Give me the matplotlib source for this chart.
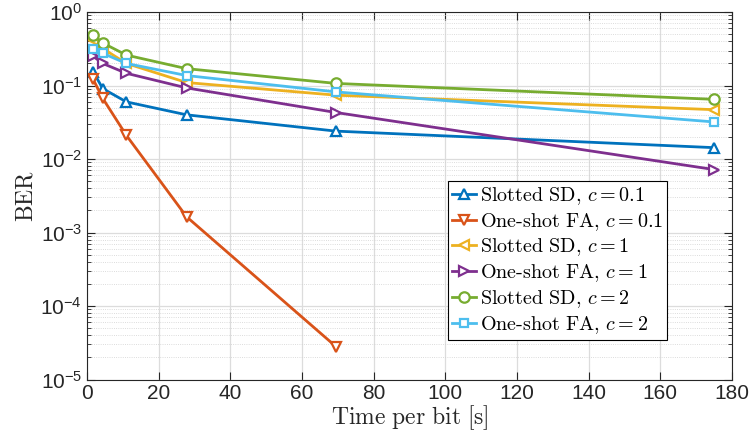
import numpy as np
import matplotlib.pyplot as plt
from matplotlib.ticker import LogLocator, NullFormatter

# tiempos por bit [s]
t = [1.75, 4.4, 11.0, 27.8, 69.5, 175.0]
t_fa01 = [1.75, 4.4, 11.0, 27.8, 69.5]

ber_sd01 = [0.154, 0.091, 0.060, 0.040, 0.024, 0.0143]
ber_fa01 = [0.121, 0.067, 0.021, 0.00164, 2.8e-5]
ber_sd1 = [0.42, 0.32, 0.20, 0.11, 0.074, 0.047]
ber_fa1 = [0.25, 0.20, 0.147, 0.093, 0.043, 0.0072]
ber_sd2 = [0.49, 0.38, 0.26, 0.17, 0.107, 0.065]
ber_fa2 = [0.31, 0.275, 0.20, 0.137, 0.082, 0.032]

labels = [r"$\mathrm{Slotted\ SD},\,c = 0.1$",
          r"$\mathrm{One\text{-}shot\ FA},\,c = 0.1$",
          r"$\mathrm{Slotted\ SD},\,c = 1$",
          r"$\mathrm{One\text{-}shot\ FA},\,c = 1$",
          r"$\mathrm{Slotted\ SD},\,c = 2$",
          r"$\mathrm{One\text{-}shot\ FA},\,c = 2$"]

plt.rcParams["mathtext.fontset"] = "cm"
plt.rcParams["font.family"] = ["Liberation Sans", "DejaVu Sans"]

fig = plt.figure(figsize=(7.53, 4.40), dpi=100)
ax = fig.add_axes([0.1155, 0.1375, 0.8565, 0.835])

series = [(t, ber_sd01, "#0072BD", "^"),
          (t_fa01, ber_fa01, "#D95319", "v"),
          (t, ber_sd1, "#EDB120", "<"),
          (t, ber_fa1, "#7E2F8E", ">"),
          (t, ber_sd2, "#77AC30", "o"),
          (t, ber_fa2, "#4DBEEE", "s")]

for (x, y, c, m), lab in zip(series, labels):
    ax.semilogy(x, y, color=c, marker=m, lw=2, ms=7.5 if m != "s" else 6,
                mfc="white", mew=1.6, label=lab)

ax.set_xlim(0, 180)
ax.set_ylim(1e-5, 1)
ax.set_xticks(np.arange(0, 181, 20))
ax.yaxis.set_major_locator(LogLocator(base=10, numticks=10))
ax.yaxis.set_minor_locator(LogLocator(base=10, subs=np.arange(2, 10), numticks=20))
ax.yaxis.set_minor_formatter(NullFormatter())

ax.grid(True, which="major", color="#dcdcdc", lw=0.9)
ax.grid(True, which="minor", axis="y", color="#d0d0d0", lw=0.6, ls=":")
ax.set_axisbelow(True)

ax.tick_params(which="both", direction="in", top=True, right=True, colors="#262626",
               labelsize=15)
ax.tick_params(which="major", length=6)
ax.tick_params(which="minor", length=3)
for s in ax.spines.values():
    s.set_color("#262626")

ax.set_xlabel(r"$\mathrm{Time\ per\ bit\ [s]}$", fontsize=17, color="#262626", labelpad=0)
ax.set_ylabel(r"$\mathrm{BER}$", fontsize=17, color="#262626", labelpad=2)

leg = ax.legend(loc="lower right", bbox_to_anchor=(0.899, 0.107), fontsize=14.5,
                fancybox=False, edgecolor="black", framealpha=1, handlelength=1.2,
                handletextpad=0.15, borderpad=0.2, labelspacing=0.2, borderaxespad=0)
leg.get_frame().set_linewidth(0.8)

fig.savefig("out.png", dpi=100)
